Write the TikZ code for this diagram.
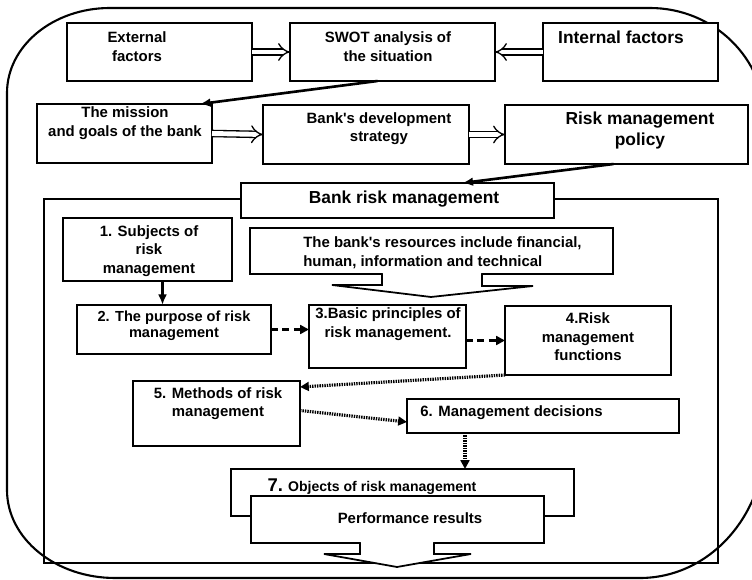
\documentclass[tikz,border=0pt]{standalone}
\usepackage{fontspec}
\setmainfont{Liberation Sans}
\usetikzlibrary{arrows.meta,fit,calc}
\begin{document}
\begin{tikzpicture}[x=0.02cm,y=-0.02cm,
  bx/.style={draw, line width=1pt, fill=white, inner sep=0pt, outer sep=0pt},
  txt/.style={font=\bfseries\fontsize{8.5}{10.6}\selectfont, align=center, inner sep=0pt},
  bigtxt/.style={font=\bfseries\fontsize{9.9}{12}\selectfont, align=center, inner sep=0pt},
  hollow/.style={double, line width=0.75pt, double distance=2.8pt, -{Implies}},
  solidarr/.style={line width=1.5pt, -{Latex[length=6pt,width=5pt]}},
  dasharr/.style={line width=1.6pt, dash pattern=on 4pt off 2.5pt, -{Triangle[length=5pt,width=5pt]}},
  dotarr/.style={line width=1.8pt, dash pattern=on 0.8pt off 0.6pt, -{Triangle[length=5pt,width=5pt]}}]
\useasboundingbox (0,0) rectangle (752,580);
% outer rounded frame
\draw[line width=1.2pt] (110,8) -- (650,8) .. controls (713.5,8) and (765,58.2) .. (765,120)
  -- (765,440) .. controls (765,516.2) and (709,578) .. (640,578)
  -- (115,578) .. controls (55.4,578) and (7,538.6) .. (7,490)
  -- (7,93) .. controls (7,46) and (53,8) .. (110,8) -- cycle;
% top rows
\node[bx, fit={(67,23)(252,81)}] (ext) {};
\node[txt] (extT) at (137,46.5) {External\\factors};
\node[bx, fit={(290,23)(495,81)}] (swot) {};
\node[txt] (swotT) at (388,46.5) {SWOT analysis of\\the situation};
\node[bx, fit={(543,23)(718,81)}] (int) {};
\node[bigtxt] (intT) at (621,37) {Internal factors};
\node[bx, fit={(37,104)(212,163)}] (mis) {};
\node[txt] (misT) at (125,123) {The mission\\and goals of the bank};
\node[bx, fit={(263,105)(469,164)}] (str) {};
\node[txt] (strT) at (379,128.5) {Bank\textquotesingle s development\\strategy};
\node[bx, fit={(505,105)(748,164)}] (pol) {};
\node[bigtxt] (polT) at (640,130.5) {Risk management\\policy};
% inner frame
\node[bx, fill=none, fit={(44,199)(718,563)}] (inner) {};
\node[bx, fit={(241,183)(554,218)}] (brm) {};
\node[bigtxt] (brmT) at (404,199) {Bank risk management};
% inner boxes
\node[bx, fit={(63,218)(232,281)}] (subj) {};
\node[txt] (subjT) at (149,251) {1. Subjects of\\risk\\management};
\node[bx, fit={(77,305)(271,354)}] (purp) {};
\node[txt, font=\bfseries\fontsize{8.3}{9.4}\selectfont] (purpT) at (174,326) {2. The purpose of risk\\management};
\node[bx, fit={(250,228)(613,274)}] (res) {};
\node[txt, align=left, anchor=west] (resT) at (303,252.5) {The bank\textquotesingle s resources include financial,\\human, information and technical};
\node[bx, fit={(309,305)(466,368)}] (basic) {};
\node[txt] (basicT) at (388,324) {3.Basic principles of\\risk management.};
\node[bx, fit={(505,306)(671,375)}] (func) {};
\node[txt] (funcT) at (588,337) {4.Risk\\management\\functions};
\node[bx, fit={(133,381)(300,446)}] (meth) {};
\node[txt] (methT) at (218,403.5) {5. Methods of risk\\management};
\node[bx, fit={(407,399)(679,433)}] (dec) {};
\node[txt, anchor=west] (decT) at (420,413) {6. Management decisions};
\node[bx, fit={(231,469)(574,516)}] (obj) {};
\node[txt, font=\bfseries\fontsize{8}{10}\selectfont] (objT) at (372,487) {{\fontsize{10.5}{12}\selectfont 7.} Objects of risk management};
\node[bx, fit={(251,496)(544,543)}] (perf) {};
\node[txt] (perfT) at (410,518) {Performance results};
% callout arrows
\fill[white] (383,272) rectangle (481,280);
\filldraw[line width=1pt, fill=white] (382,274) -- (382,285) -- (332,285) -- (431,297) -- (533,286) -- (482,286) -- (482,274);
\fill[white] (361,541) rectangle (433,546);
\filldraw[line width=1pt, fill=white] (360,543) -- (360,554) -- (324,554) -- (397,567) -- (471,554) -- (434,554) -- (434,543);
% connectors
\draw[hollow] (ext.east) -- (swot.west);
\draw[hollow] (int.west) -- (swot.east);
\draw[hollow] (mis.east) -- (str.west);
\draw[hollow] (str.east) -- (pol.west);
\draw[solidarr] ($(swot.south)+(-15,0)$) -- ($(mis.north east)+(-12,0)$);
\draw[solidarr] ($(pol.south)+(-13,0)$) -- ($(brm.north)+(65,0)$);
\coordinate (s1) at ($(subj.south)+(15,0)$);
\draw[solidarr] (s1) -- (s1 |- purp.north);
\draw[dasharr] (purp.east) -- (purp.east -| basic.west);
\draw[dasharr] (basic.east |- func.west) -- (func.west);
\draw[dotarr] (func.south west) -- ($(meth.north east)+(0,6)$);
\draw[dotarr] ($(meth.east)+(0,-3)$) -- ($(dec.west)+(0,6)$);
\coordinate (d1) at ($(dec.south west)+(58,0)$);
\draw[dotarr] (d1) -- (d1 |- obj.north);
\end{tikzpicture}
\end{document}
